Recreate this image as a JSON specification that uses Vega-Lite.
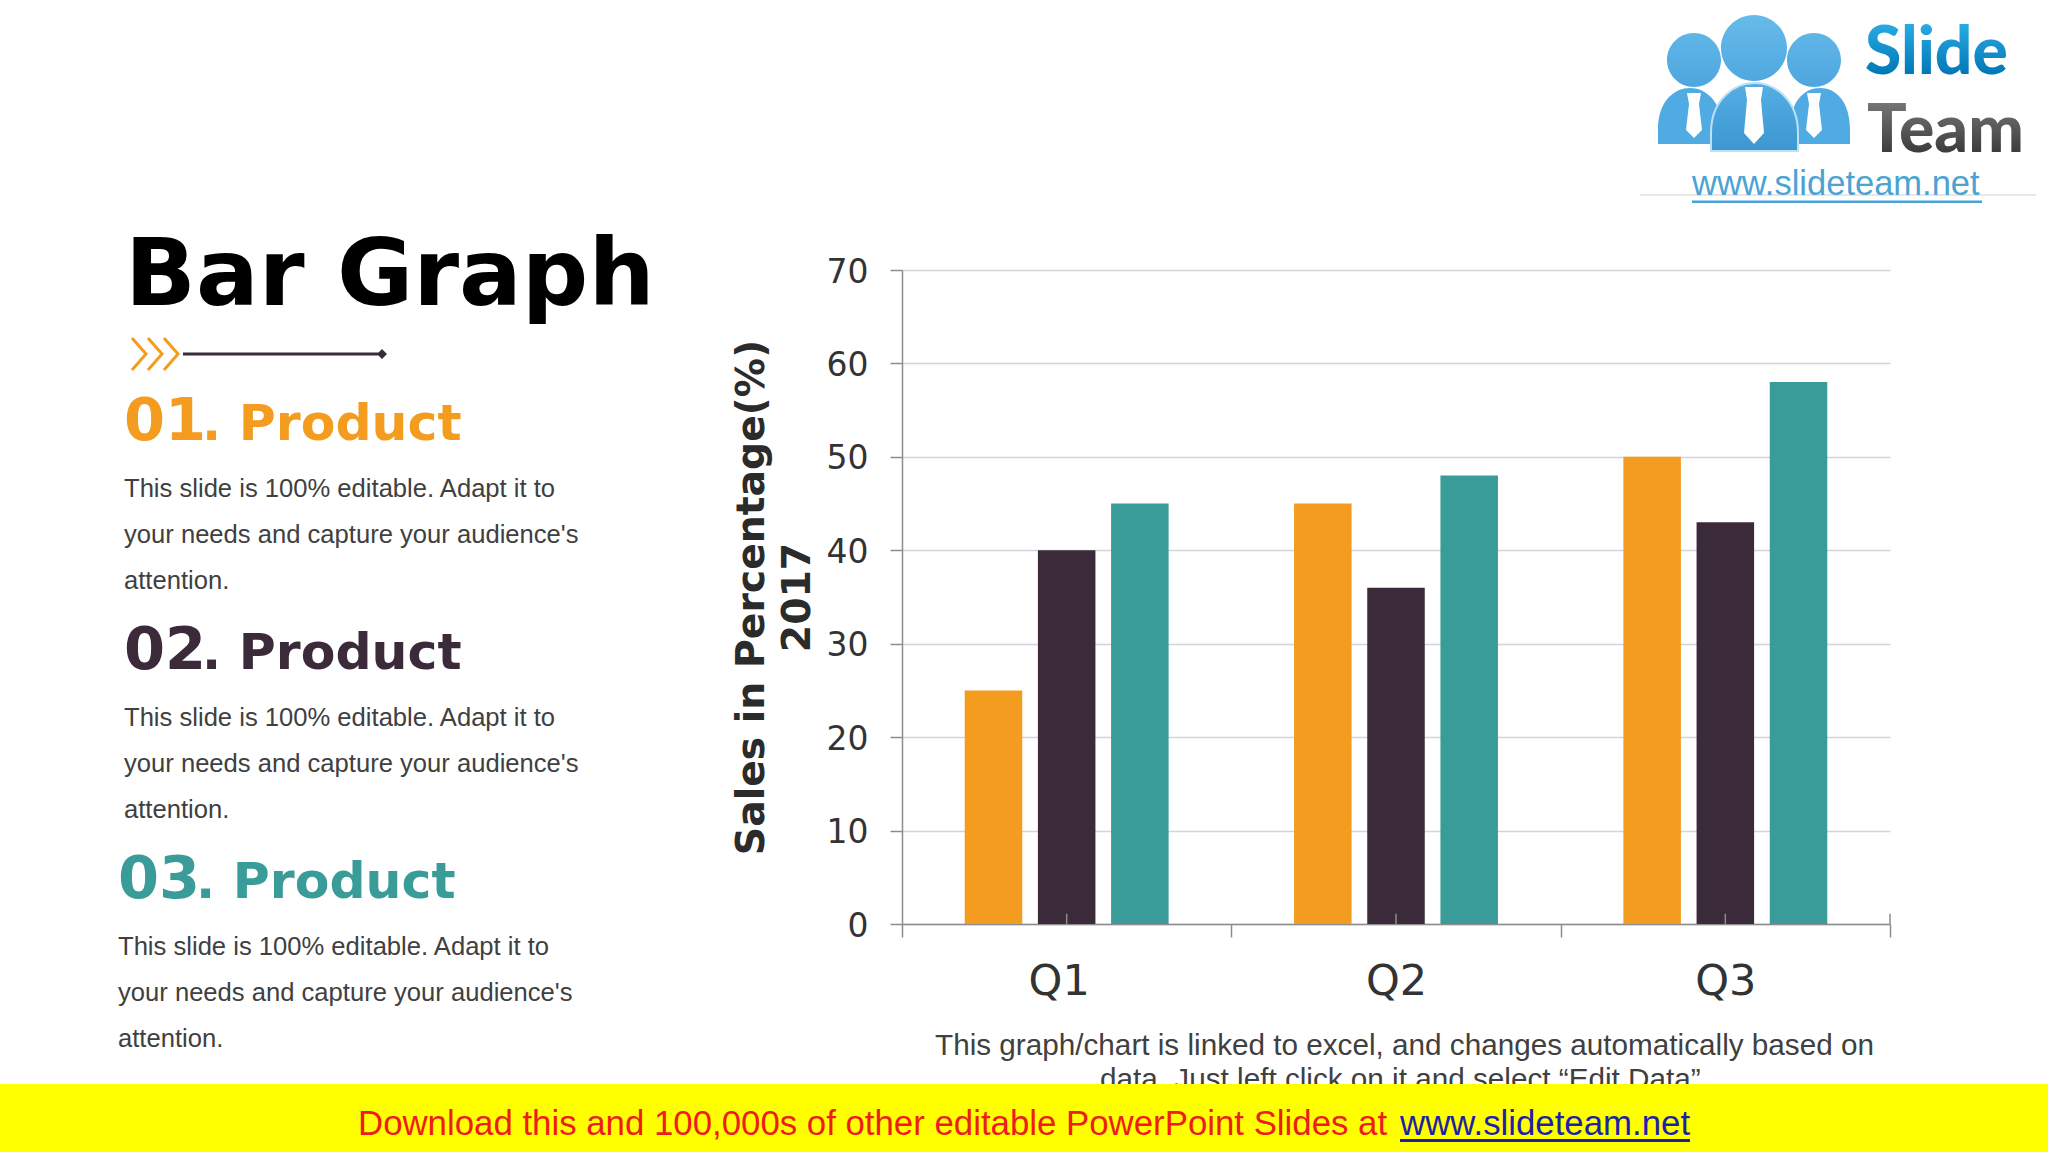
{
  "$schema": "https://vega.github.io/schema/vega-lite/v6.json",
  "padding": 0,
  "background": "#FFFFFF",
  "bounds": "flush",
  "spacing": 1084,
  "resolve": {"scale": {"color": "independent"}},
  "config": {"view": {"stroke": null}},
  "datasets": {
    "sales": [
      {"quarter": "Q1", "product": "01", "sales": 25},
      {"quarter": "Q1", "product": "02", "sales": 40},
      {"quarter": "Q1", "product": "03", "sales": 45},
      {"quarter": "Q2", "product": "01", "sales": 45},
      {"quarter": "Q2", "product": "02", "sales": 36},
      {"quarter": "Q2", "product": "03", "sales": 48},
      {"quarter": "Q3", "product": "01", "sales": 50},
      {"quarter": "Q3", "product": "02", "sales": 43},
      {"quarter": "Q3", "product": "03", "sales": 58}
    ],
    "heads": [
      {"section": "01", "indent": "std", "number": "01", "label": ". Product"},
      {"section": "02", "indent": "std", "number": "02", "label": ". Product"},
      {"section": "03", "indent": "shifted", "number": "03", "label": ". Product"}
    ],
    "body": [
      {"section": "01", "indent": "std", "line": "a", "text": "This slide is 100% editable. Adapt it to"},
      {"section": "01", "indent": "std", "line": "b", "text": "your needs and capture your audience's"},
      {"section": "01", "indent": "std", "line": "c", "text": "attention."},
      {"section": "02", "indent": "std", "line": "a", "text": "This slide is 100% editable. Adapt it to"},
      {"section": "02", "indent": "std", "line": "b", "text": "your needs and capture your audience's"},
      {"section": "02", "indent": "std", "line": "c", "text": "attention."},
      {"section": "03", "indent": "shifted", "line": "a", "text": "This slide is 100% editable. Adapt it to"},
      {"section": "03", "indent": "shifted", "line": "b", "text": "your needs and capture your audience's"},
      {"section": "03", "indent": "shifted", "line": "c", "text": "attention."}
    ],
    "one": [{"n": 1}]
  },
  "vconcat": [
    {
      "bounds": "flush",
      "spacing": 0,
      "resolve": {"scale": {"color": "independent"}},
      "hconcat": [
        {
          "width": 902,
          "height": 1084,
          "title": {"text": "Bar Graph", "font": "DejaVu Sans", "fontSize": 93, "fontWeight": "bold", "color": "#000000", "anchor": "start", "frame": "group", "baseline": "alphabetic", "offset": 0, "dx": 125, "dy": 398},
          "layer": [
            {
              "data": {"name": "heads"},
              "mark": {"type": "text", "font": "DejaVu Sans", "fontWeight": "bold", "fontSize": 59, "align": "left", "baseline": "alphabetic"},
              "encoding": {
                "x": {"field": "indent", "type": "nominal", "axis": null, "scale": {"domain": ["shifted", "std"], "range": [118, 124], "padding": 0}},
                "y": {"field": "section", "type": "nominal", "axis": null, "scale": {"domain": ["01", "02", "03"], "range": [325.5, 1012.5], "padding": 0}},
                "text": {"field": "number"},
                "color": {"field": "section", "type": "nominal", "legend": null, "scale": {"domain": ["01", "02", "03"], "range": ["#F39C1F", "#3B2A3A", "#3A9C98"]}}
              }
            },
            {
              "data": {"name": "heads"},
              "mark": {"type": "text", "font": "DejaVu Sans", "fontWeight": "bold", "fontSize": 50.5, "align": "left", "baseline": "alphabetic", "dx": 78},
              "encoding": {
                "x": {"field": "indent", "type": "nominal", "axis": null},
                "y": {"field": "section", "type": "nominal", "axis": null},
                "text": {"field": "label"},
                "color": {"field": "section", "type": "nominal", "legend": null}
              }
            },
            {
              "data": {"name": "body"},
              "mark": {"type": "text", "font": "Liberation Sans", "fontSize": 25.6, "align": "left", "baseline": "alphabetic", "color": "#404040"},
              "encoding": {
                "x": {"field": "indent", "type": "nominal", "axis": null},
                "y": {"field": "section", "type": "nominal", "axis": null},
                "yOffset": {"field": "line", "type": "nominal", "scale": {"domain": ["a", "b", "c"], "range": [171.5, 263.5], "padding": 0}},
                "text": {"field": "text"}
              }
            },
            {
              "data": {"name": "one"},
              "mark": {"type": "point", "filled": false, "size": 40000, "opacity": 1, "stroke": "#F39C1F", "strokeWidth": 3,
                "shape": "M-3.19,-2.04 L-3.05,-1.88 L-3.19,-1.72 M-3.03,-2.04 L-2.89,-1.88 L-3.03,-1.72 M-2.87,-2.04 L-2.73,-1.88 L-2.87,-1.72"}
            },
            {
              "data": {"name": "one"},
              "mark": {"type": "point", "filled": true, "size": 40000, "opacity": 1, "color": "#3B2A3A",
                "shape": "M-2.68,-1.895 L-0.71,-1.895 L-0.71,-1.865 L-2.68,-1.865 Z M-0.74,-1.88 L-0.69,-1.93 L-0.64,-1.88 L-0.69,-1.83 Z"}
            }
          ]
        },
        {
          "bounds": "flush",
          "spacing": 0,
          "resolve": {"scale": {"color": "independent"}},
          "vconcat": [
            {
              "width": 1146,
              "height": 270,
              "layer": [
                {
                  "data": {"name": "one"},
                  "mark": {"type": "point", "filled": true, "size": 40000, "opacity": 1,
                    "color": {"gradient": "linear", "x1": 0, "y1": 0, "x2": 0, "y2": 1, "stops": [{"offset": 0, "color": "#66BBEA"}, {"offset": 1, "color": "#4EA6DE"}]},
                    "shape": "M1.92,-0.75 A0.27,0.27 0 1,0 2.46,-0.75 A0.27,0.27 0 1,0 1.92,-0.75 Z M3.12,-0.75 A0.27,0.27 0 1,0 3.66,-0.75 A0.27,0.27 0 1,0 3.12,-0.75 Z M2.46,-0.87 A0.33,0.33 0 1,0 3.12,-0.87 A0.33,0.33 0 1,0 2.46,-0.87 Z"}
                },
                {
                  "data": {"name": "one"},
                  "mark": {"type": "point", "filled": true, "size": 40000, "opacity": 1, "color": "#4FABE2",
                    "shape": "M1.83,0.09 L1.83,-0.05 C1.83,-0.35 2.0,-0.47 2.15,-0.47 C2.3,-0.47 2.47,-0.35 2.47,-0.05 L2.47,0.09 Z M3.15,0.09 L3.15,-0.05 C3.15,-0.35 3.3,-0.47 3.45,-0.47 C3.6,-0.47 3.75,-0.35 3.75,-0.05 L3.75,0.09 Z"}
                },
                {
                  "data": {"name": "one"},
                  "mark": {"type": "point", "filled": true, "size": 40000, "opacity": 1, "stroke": "#BFE0F3", "strokeWidth": 2,
                    "color": {"gradient": "linear", "x1": 0, "y1": 0, "x2": 0, "y2": 1, "stops": [{"offset": 0, "color": "#55AEE4"}, {"offset": 1, "color": "#3D97D0"}]},
                    "shape": "M2.36,0.16 L2.36,-0.02 C2.36,-0.36 2.6,-0.52 2.795,-0.52 C2.99,-0.52 3.23,-0.36 3.23,-0.02 L3.23,0.16 Z"}
                },
                {
                  "data": {"name": "one"},
                  "mark": {"type": "point", "filled": true, "size": 40000, "opacity": 1, "color": "#FFFFFF",
                    "shape": "M2.70,-0.48 L2.88,-0.48 L2.86,-0.35 L2.89,-0.02 L2.79,0.09 L2.69,-0.02 L2.72,-0.35 Z M2.12,-0.42 L2.26,-0.42 L2.24,-0.31 L2.27,-0.05 L2.19,0.03 L2.11,-0.05 L2.14,-0.31 Z M3.32,-0.42 L3.46,-0.42 L3.44,-0.31 L3.47,-0.05 L3.39,0.03 L3.31,-0.05 L3.34,-0.31 Z"}
                },
                {
                  "data": {"name": "one"},
                  "mark": {"type": "point", "filled": true, "size": 40000, "opacity": 1, "color": "#CFCFCF",
                    "shape": "M1.65,0.595 L5.61,0.595 L5.61,0.605 L1.65,0.605 Z"}
                },
                {
                  "data": {"name": "one"},
                  "mark": {"type": "point", "filled": true, "size": 40000, "opacity": 1, "color": "#4BA3D3",
                    "shape": "M2.17,0.655 L5.07,0.655 L5.07,0.68 L2.17,0.68 Z"}
                },
                {
                  "data": {"values": [{"word": "Slide"}]},
                  "mark": {"type": "text", "font": "Lato", "fontWeight": 900, "fontSize": 66, "align": "left", "baseline": "alphabetic",
                    "color": {"gradient": "linear", "x1": 0, "y1": 0, "x2": 0, "y2": 1, "stops": [{"offset": 0.15, "color": "#2BAEE6"}, {"offset": 0.85, "color": "#0075B6"}]}},
                  "encoding": {
                    "x": {"field": "word", "type": "nominal", "axis": null, "scale": {"domain": ["Slide", "Team"], "range": [963, 965], "padding": 0}},
                    "y": {"field": "word", "type": "nominal", "axis": null, "scale": {"domain": ["Slide", "Team"], "range": [74, 152], "padding": 0}},
                    "text": {"field": "word"}
                  }
                },
                {
                  "data": {"values": [{"word": "Team"}]},
                  "mark": {"type": "text", "font": "Lato", "fontWeight": 900, "fontSize": 66, "align": "left", "baseline": "alphabetic",
                    "color": {"gradient": "linear", "x1": 0, "y1": 0, "x2": 0, "y2": 1, "stops": [{"offset": 0.15, "color": "#7A7A7A"}, {"offset": 0.85, "color": "#3A3A3A"}]}},
                  "encoding": {
                    "x": {"field": "word", "type": "nominal", "axis": null},
                    "y": {"field": "word", "type": "nominal", "axis": null},
                    "text": {"field": "word"}
                  }
                },
                {
                  "data": {"name": "one"},
                  "mark": {"type": "text", "text": "www.slideteam.net", "font": "Liberation Sans", "fontSize": 34.5, "align": "left", "baseline": "alphabetic", "color": "#4BA3D3", "dx": 217, "dy": 60}
                }
              ]
            },
            {
              "width": 988,
              "height": 654,
              "layer": [
                {
                  "data": {"name": "sales"},
                  "mark": {"type": "bar"},
                  "encoding": {
                    "x": {
                      "field": "quarter",
                      "type": "nominal",
                      "scale": {"paddingInner": 0, "paddingOuter": 0},
                      "axis": {
                        "labelAngle": 0,
                        "labelFont": "DejaVu Sans",
                        "labelFontSize": 43,
                        "labelColor": "#333333",
                        "labelPadding": 23,
                        "labelOffset": {"condition": {"test": "datum.value === 'Q1'", "value": -8}, "value": 0},
                        "tickBand": "extent",
                        "tickSize": 13,
                        "tickColor": "#8C8C8C",
                        "tickWidth": 1.5,
                        "domainColor": "#8C8C8C",
                        "domainWidth": 1.5,
                        "title": ["This graph/chart is linked to excel, and changes automatically based on", "data. Just left click on it and select “Edit Data”."],
                        "titleFont": "Liberation Sans",
                        "titleFontSize": 29.7,
                        "titleFontWeight": "normal",
                        "titleColor": "#404040",
                        "titleLineHeight": 34,
                        "titlePadding": 28,
                        "titleX": 502
                      }
                    },
                    "xOffset": {
                      "field": "product",
                      "type": "nominal",
                      "scale": {"domain": ["01", "02", "03"], "paddingInner": 0.214, "paddingOuter": 0.857}
                    },
                    "y": {
                      "field": "sales",
                      "type": "quantitative",
                      "scale": {"domain": [0, 70]},
                      "axis": {
                        "values": [0, 10, 20, 30, 40, 50, 60, 70],
                        "labelFont": "DejaVu Sans",
                        "labelFontSize": 33,
                        "labelColor": "#333333",
                        "labelPadding": 22,
                        "labelOffset": 2,
                        "tickSize": 12,
                        "tickColor": "#8C8C8C",
                        "tickWidth": 1.5,
                        "domainColor": "#8C8C8C",
                        "domainWidth": 1.5,
                        "grid": true,
                        "gridColor": "#D4D4DC",
                        "gridWidth": 1.5,
                        "title": ["Sales in Percentage(%)", "2017"],
                        "titleFont": "DejaVu Sans",
                        "titleFontSize": 39.3,
                        "titleFontWeight": "bold",
                        "titleColor": "#2B2B2B",
                        "titleLineHeight": 46,
                        "titlePadding": 9
                      }
                    },
                    "color": {
                      "field": "product",
                      "type": "nominal",
                      "legend": null,
                      "scale": {"domain": ["01", "02", "03"], "range": ["#F39C1F", "#3B2A3A", "#3A9C98"]}
                    }
                  }
                },
                {
                  "data": {"values": [{"quarter": "Q1"}, {"quarter": "Q2"}, {"quarter": "Q3"}]},
                  "mark": {"type": "rule", "color": "#8C8C8C", "strokeWidth": 1.5},
                  "encoding": {
                    "x": {"field": "quarter", "type": "nominal", "bandPosition": 0.5},
                    "y": {"datum": 0},
                    "y2": {"datum": 1.1}
                  }
                },
                {
                  "data": {"values": [{"quarter": "Q3"}]},
                  "mark": {"type": "rule", "color": "#8C8C8C", "strokeWidth": 1.5},
                  "encoding": {
                    "x": {"field": "quarter", "type": "nominal", "bandPosition": 1},
                    "y": {"datum": 0},
                    "y2": {"datum": 1.1}
                  }
                }
              ]
            }
          ]
        }
      ]
    },
    {
      "width": 2048,
      "height": 68,
      "view": {"fill": "#FFFF00"},
      "layer": [
        {
          "data": {"values": [
            {"part": "offer", "text": "Download this and 100,000s of other editable PowerPoint Slides at"},
            {"part": "link", "text": "www.slideteam.net"}
          ]},
          "mark": {"type": "text", "font": "Liberation Sans", "fontSize": 34.8, "align": "left", "baseline": "alphabetic", "dy": 17},
          "encoding": {
            "x": {"field": "part", "type": "nominal", "axis": null, "scale": {"domain": ["offer", "link"], "range": [358, 1400], "padding": 0}},
            "text": {"field": "text"},
            "color": {"field": "part", "type": "nominal", "legend": null, "scale": {"domain": ["offer", "link"], "range": ["#EE1C1C", "#1F1FA8"]}}
          }
        },
        {
          "data": {"name": "one"},
          "mark": {"type": "point", "filled": true, "size": 40000, "opacity": 1, "color": "#1F1FA8",
            "shape": "M3.76,0.21 L6.66,0.21 L6.66,0.24 L3.76,0.24 Z"}
        }
      ]
    }
  ]
}
